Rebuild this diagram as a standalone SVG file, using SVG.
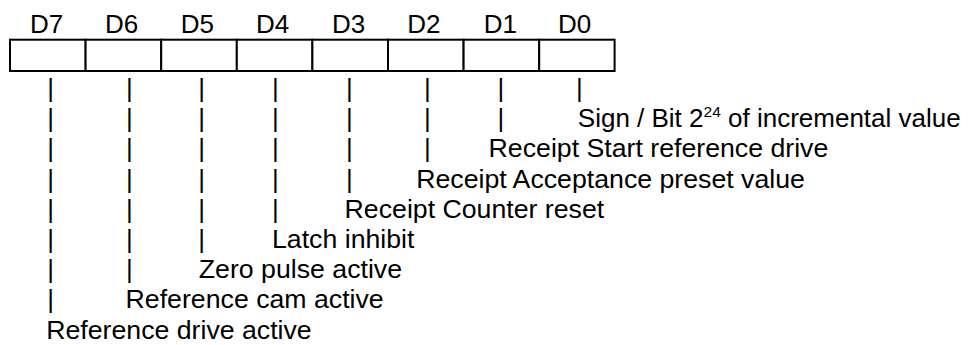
<svg xmlns="http://www.w3.org/2000/svg" width="975" height="345" viewBox="0 0 975 345">
<style>
text{font-family:"Liberation Sans",Arial,Helvetica,sans-serif;font-size:26px;fill:#000}
.d{font-size:26.7px}
.p{text-anchor:middle}
.cell{fill:#fff;stroke:#000;stroke-width:2}
</style>
<rect width="975" height="345" fill="#fff"/>
<g id="register">
<rect class="cell" x="10" y="39.7" width="75.6" height="31.3"/>
<rect class="cell" x="85.6" y="39.7" width="75.6" height="31.3"/>
<rect class="cell" x="161.2" y="39.7" width="75.6" height="31.3"/>
<rect class="cell" x="236.8" y="39.7" width="75.6" height="31.3"/>
<rect class="cell" x="312.4" y="39.7" width="75.6" height="31.3"/>
<rect class="cell" x="388" y="39.7" width="75.6" height="31.3"/>
<rect class="cell" x="463.6" y="39.7" width="75.6" height="31.3"/>
<rect class="cell" x="539.2" y="39.7" width="75.4" height="31.3"/>
</g>
<g id="bit-labels">
<text x="30" y="33">D7</text>
<text x="105" y="33">D6</text>
<text x="180.7" y="33">D5</text>
<text x="256" y="33">D4</text>
<text x="332" y="33">D3</text>
<text x="407.3" y="33">D2</text>
<text x="483.7" y="33">D1</text>
<text x="558" y="33">D0</text>
</g>
<g id="connectors">
<g id="lead-d7"><text class="p" x="50.7" y="97">|</text><text class="p" x="50.7" y="127.2">|</text><text class="p" x="50.7" y="157.4">|</text><text class="p" x="50.7" y="187.6">|</text><text class="p" x="50.7" y="217.8">|</text><text class="p" x="50.7" y="248">|</text><text class="p" x="50.7" y="278.2">|</text><text class="p" x="50.7" y="308.4">|</text></g>
<g id="lead-d6"><text class="p" x="129.3" y="97">|</text><text class="p" x="129.3" y="127.2">|</text><text class="p" x="129.3" y="157.4">|</text><text class="p" x="129.3" y="187.6">|</text><text class="p" x="129.3" y="217.8">|</text><text class="p" x="129.3" y="248">|</text><text class="p" x="129.3" y="278.2">|</text></g>
<g id="lead-d5"><text class="p" x="201.7" y="97">|</text><text class="p" x="201.7" y="127.2">|</text><text class="p" x="201.7" y="157.4">|</text><text class="p" x="201.7" y="187.6">|</text><text class="p" x="201.7" y="217.8">|</text><text class="p" x="201.7" y="248">|</text></g>
<g id="lead-d4"><text class="p" x="275.3" y="97">|</text><text class="p" x="275.3" y="127.2">|</text><text class="p" x="275.3" y="157.4">|</text><text class="p" x="275.3" y="187.6">|</text><text class="p" x="275.3" y="217.8">|</text></g>
<g id="lead-d3"><text class="p" x="349.3" y="97">|</text><text class="p" x="349.3" y="127.2">|</text><text class="p" x="349.3" y="157.4">|</text><text class="p" x="349.3" y="187.6">|</text></g>
<g id="lead-d2"><text class="p" x="427.3" y="97">|</text><text class="p" x="427.3" y="127.2">|</text><text class="p" x="427.3" y="157.4">|</text></g>
<g id="lead-d1"><text class="p" x="501" y="97">|</text><text class="p" x="501" y="127.2">|</text></g>
<g id="lead-d0"><text class="p" x="579.3" y="97">|</text></g>
</g>
<g id="desc-d0"><text x="577.8" y="127.2" font-size="26.3">Sign / Bit 2<tspan font-size="15.5" dy="-10.5">24</tspan><tspan dy="10.5"> of incremental value</tspan></text></g>
<g id="desc-d1"><text class="d" x="488.6" y="157.4">Receipt Start reference drive</text></g>
<g id="desc-d2"><text class="d" x="416.2" y="187.6">Receipt Acceptance preset value</text></g>
<g id="desc-d3"><text class="d" x="344.6" y="217.8">Receipt Counter reset</text></g>
<g id="desc-d4"><text class="d" x="272" y="248">Latch inhibit</text></g>
<g id="desc-d5"><text class="d" x="198.8" y="278.2">Zero pulse active</text></g>
<g id="desc-d6"><text class="d" x="125.6" y="308.4">Reference cam active</text></g>
<g id="desc-d7"><text class="d" x="46.2" y="338.6">Reference drive active</text></g>
</svg>
